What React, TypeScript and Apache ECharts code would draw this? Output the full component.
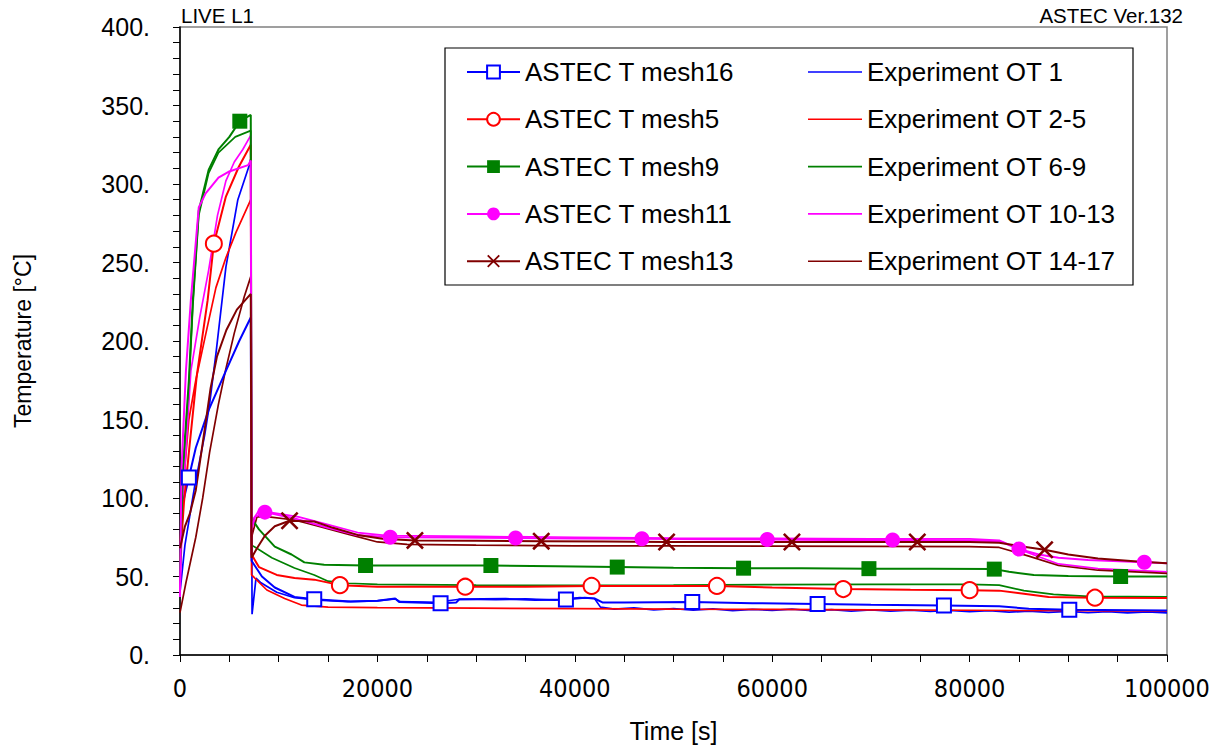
import React, { useEffect, useRef } from "react";
import * as echarts from "echarts";

// ---------- data (time [s], temperature [°C]) ----------
const astecMesh16: [number, number][] = [
  [0, 62], [300, 97], [900, 113], [1600, 132], [2900, 156], [4650, 181], [6000, 200], [7170, 215],
  [7250, 60], [8300, 50], [9600, 43], [11600, 37], [13600, 35.5], [17300, 34], [20000, 34.5],
  [21800, 36], [22200, 33.8], [26400, 33], [28000, 33.5], [28300, 35.5], [33000, 35.8], [36000, 35],
  [39100, 35.3], [41000, 36.5], [42000, 36], [42800, 33.5], [45000, 33.5], [51900, 33.8], [58000, 33],
  [64600, 32.5], [70000, 32], [77400, 31.5], [83000, 31], [86000, 29.5], [90100, 28.8], [100000, 28.3],
];
const astecMesh16Marks = [900, 13600, 26400, 39100, 51900, 64600, 77400, 90100];

const astecMesh5: [number, number][] = [
  [0, 60], [400, 97], [900, 129], [1700, 178], [2800, 226], [3430, 262], [4650, 292], [5960, 311], [7170, 325],
  [7250, 64], [8000, 56], [9800, 51], [11600, 49], [13600, 48], [16200, 44.5], [20000, 43.5], [28900, 43.5],
  [35000, 43.5], [41700, 44], [48000, 44], [54400, 44], [60000, 43], [67200, 42], [74000, 41.5], [80000, 41.3],
  [83000, 41], [85500, 39], [88000, 37], [92700, 36.5], [100000, 36.3],
];
const astecMesh5Marks = [3430, 16200, 28900, 41700, 54400, 67200, 80000, 92700];

const astecMesh9: [number, number][] = [
  [0, 55], [300, 120], [900, 175], [1300, 226], [1900, 283], [2900, 309], [3900, 322], [5000, 330], [6060, 340], [7170, 344],
  [7250, 87], [8000, 80], [9600, 69], [11300, 64], [12600, 59], [14600, 57.5], [18800, 57], [25000, 57], [31500, 57],
  [38000, 56.5], [44300, 56], [50000, 55.5], [57100, 55.3], [63000, 55.2], [69800, 55], [76000, 55], [82500, 54.7],
  [84000, 53], [86500, 51], [90000, 50.3], [95300, 50], [100000, 50],
];
const astecMesh9Marks = [6060, 18800, 31500, 44300, 57100, 69800, 82500, 95300];

const astecMesh11: [number, number][] = [
  [0, 37], [150, 118], [600, 181], [1100, 226], [1900, 285], [2600, 294], [3900, 304], [5000, 308], [6900, 312], [7170, 315],
  [7250, 80], [7600, 88], [8600, 91], [11600, 87], [15000, 81], [17800, 76.5], [21300, 75], [28000, 74.8], [34000, 74.5],
  [40000, 74.2], [46800, 74], [53000, 73.8], [59500, 73.5], [66000, 73.3], [72200, 73.2], [80000, 73], [83000, 72.5],
  [85000, 67.5], [87000, 64], [89000, 62], [92000, 60.5], [97700, 59], [100000, 58.5],
];
const astecMesh11Marks = [8600, 21300, 34000, 46800, 59500, 72200, 85000, 97700];

const astecMesh13: [number, number][] = [
  [0, 68], [500, 82], [1000, 90], [1600, 105], [2300, 135], [3100, 170], [3740, 190], [4700, 207], [5760, 220], [7170, 230],
  [7250, 62], [7800, 68], [8600, 76], [9600, 82], [11100, 85.5], [13600, 85], [15500, 81], [18000, 76.5], [20500, 74],
  [23800, 73], [30000, 72.8], [36600, 72.5], [43000, 72.3], [49300, 72], [55000, 72], [62000, 72], [68000, 72],
  [74700, 72], [80000, 72], [83000, 71.5], [85500, 69], [87600, 67], [90000, 64], [93000, 61.5], [97000, 59.5], [100000, 58.5],
];
const astecMesh13Marks = [11100, 23800, 36600, 49300, 62000, 74700, 87600];

const expOT1: [number, number][] = [
  [0, 40], [500, 70], [1500, 108], [2500, 140], [3000, 160], [3640, 192], [4650, 247], [5860, 290], [6970, 311], [7170, 316],
  [7300, 26], [7700, 49], [8200, 46], [9800, 40], [11600, 36.5], [14000, 35], [17000, 34], [20000, 34.5], [21800, 35.8],
  [22300, 34], [26000, 33.6], [28300, 35.5], [32000, 35.2], [35000, 35.8], [38000, 35], [40500, 36.5], [42000, 36],
  [42600, 30.5], [44000, 29.2], [46000, 30], [48000, 28.8], [50000, 29.6], [52000, 28.6], [54000, 29.4], [56000, 28.3],
  [58000, 29.1], [60000, 28.4], [62000, 29.2], [64000, 28.2], [66000, 28.9], [68000, 28], [70000, 28.8], [72000, 27.9],
  [74000, 28.6], [76000, 27.7], [78000, 28.4], [80000, 27.6], [82000, 28.2], [84000, 27.3], [86000, 27.9], [88000, 27.1],
  [90000, 27.8], [92000, 26.9], [94000, 27.6], [96000, 26.8], [98000, 27.4], [100000, 26.8],
];

const expOT2to5: [number, number][] = [
  [0, 68], [300, 105], [900, 150], [1600, 175], [2630, 205], [3640, 234], [4650, 253], [5660, 269], [7170, 290],
  [7250, 51], [8800, 41.4], [10600, 36], [12300, 31.8], [15000, 30.5], [20000, 30.2], [30000, 29.8], [40000, 29.5],
  [50000, 29.2], [60000, 29], [70000, 28.8], [80000, 28.5], [90000, 28.2], [100000, 28],
];

const expOT6to9: [number, number][] = [
  [0, 50], [300, 115], [900, 170], [1300, 222], [1900, 280], [2900, 307], [3900, 320], [5600, 330], [7170, 334],
  [7250, 70], [9300, 62], [11600, 55.4], [13600, 51], [15000, 47], [17000, 45.7], [20000, 45], [30000, 44.5],
  [40000, 44.3], [50000, 44.5], [60000, 44.8], [70000, 45], [80000, 45], [83000, 44.5], [85500, 41], [88500, 38.6],
  [92000, 37.3], [100000, 37],
];

const expOT10to13: [number, number][] = [
  [0, 40], [300, 100], [1100, 181], [2000, 215], [2900, 245], [3800, 280], [4650, 302], [5500, 314], [6360, 322], [7170, 331],
  [7250, 85], [8000, 92], [9000, 91], [12000, 88], [15000, 83], [18000, 78], [21000, 76], [30000, 75.5], [40000, 75],
  [50000, 74.5], [60000, 74.3], [70000, 74], [80000, 74], [83000, 73], [86000, 65], [89000, 58], [93000, 55], [100000, 53],
];

const expOT14to17: [number, number][] = [
  [0, 27], [600, 46], [1600, 75], [2300, 100], [3000, 129], [3900, 160], [4600, 181], [5500, 205], [6500, 228], [7170, 241],
  [7250, 75], [7800, 88], [9000, 88], [11600, 86], [14000, 82], [17000, 77], [20000, 72], [23000, 70.5], [30000, 70],
  [40000, 69.5], [50000, 69.5], [60000, 69.3], [70000, 69.2], [80000, 69], [83000, 68.5], [86000, 63], [89000, 57],
  [93000, 54], [100000, 52],
];

const astecNames = ["ASTEC T mesh16", "ASTEC T mesh5", "ASTEC T mesh9", "ASTEC T mesh11", "ASTEC T mesh13"];
const expNames = ["Experiment OT 1", "Experiment OT 2-5", "Experiment OT 6-9", "Experiment OT 10-13", "Experiment OT 14-17"];

// ---------- styling ----------
const BLUE = "#0000ff";
const RED = "#ff0000";
const GREEN = "#008000";
const MAGENTA = "#ff00ff";
const BROWN = "#800000";
const FONT = "Liberation Sans, Arial, sans-serif";
const NARROW = "Liberation Sans Narrow, Arial Narrow, DejaVu Sans Condensed, sans-serif";
const X_SYMBOL = "path://M0,1 L1,0 L10,9 L9,10 Z M9,0 L10,1 L1,10 L0,9 Z";
const LINE_ICON = "path://M0,0 L54,0 L54,1.6 L0,1.6 Z";

function astecSeries(name: string, pts: [number, number][], marks: number[], color: string, symbol: string, size: number) {
  return {
    name,
    type: "line",
    symbol,
    symbolSize: size,
    showSymbol: true,
    showAllSymbol: true,
    lineStyle: { width: 2, color },
    itemStyle: { color, borderColor: color, borderWidth: symbol.startsWith("empty") ? 1.3 : 0 },
    emphasis: { disabled: true },
    z: 3,
    data: pts.map(([t, v]) => (marks.includes(t) ? { value: [t, v] } : { value: [t, v], symbol: "none" })),
  };
}

function expSeries(name: string, pts: [number, number][], color: string) {
  return {
    name,
    type: "line",
    symbol: "none",
    lineStyle: { width: 1.7, color },
    itemStyle: { color },
    emphasis: { disabled: true },
    z: 2,
    data: pts,
  };
}

export default function App() {
  const ref = useRef<HTMLDivElement>(null);
  useEffect(() => {
    if (!ref.current) return;
    const chart = echarts.init(ref.current, undefined, { renderer: "svg" });
    const legendText = { fontSize: 26, lineHeight: 26, color: "#000", fontFamily: FONT };
    chart.setOption({
      animation: false,
      backgroundColor: "#fff",
      textStyle: { fontFamily: FONT },
      grid: {
        left: 180, right: 50, top: 27, bottom: 96,
        show: true, borderColor: "#808080", borderWidth: 1.5, backgroundColor: "transparent",
      },
      xAxis: {
        type: "value", min: 0, max: 100000, interval: 20000,
        name: "Time [s]", nameLocation: "middle", nameGap: 63,
        nameTextStyle: { fontSize: 25, color: "#000", fontFamily: FONT },
        axisLine: { lineStyle: { color: "#000", width: 1.5 } },
        axisTick: { show: true, length: 7, lineStyle: { color: "#000" } },
        minorTick: { show: true, splitNumber: 4, length: 7, lineStyle: { color: "#000" } },
        splitLine: { show: false },
        axisLabel: { fontSize: 25, color: "#000", margin: 21, fontFamily: NARROW, formatter: (v: number) => String(v) },
      },
      yAxis: {
        type: "value", min: 0, max: 400, interval: 50,
        name: "Temperature [°C]", nameLocation: "middle", nameGap: 146, nameRotate: 90,
        nameTextStyle: { fontSize: 23, color: "#000", fontFamily: FONT },
        axisLine: { lineStyle: { color: "#000", width: 1.5 } },
        axisTick: { show: true, length: 7, lineStyle: { color: "#000" } },
        minorTick: { show: true, splitNumber: 5, length: 7, lineStyle: { color: "#000" } },
        splitLine: { show: false },
        axisLabel: { fontSize: 25, color: "#000", margin: 30, fontFamily: FONT, formatter: (v: number) => `${v}.` },
      },
      legend: [
        {
          data: astecNames, orient: "vertical", left: 466, top: 59, padding: 0,
          itemWidth: 53, itemHeight: 16, itemGap: 21.3, selectedMode: false, z: 6,
          textStyle: legendText,
        },
        {
          data: expNames.map((n) => ({ name: n, icon: LINE_ICON })), orient: "vertical", left: 808, top: 59, padding: 0,
          itemWidth: 54, itemHeight: 16, itemGap: 21.3, selectedMode: false, z: 6,
          textStyle: legendText,
        },
      ],
      graphic: [
        { type: "rect", z: 5, shape: { x: 445, y: 48, width: 688, height: 237 }, style: { fill: "#fff", stroke: "#000", lineWidth: 1.2 } },
        { type: "text", left: 181, top: 5, style: { text: "LIVE L1", fontSize: 20.5, fill: "#000", fontFamily: FONT } },
        { type: "text", right: 34, top: 5, style: { text: "ASTEC Ver.132", fontSize: 20.5, fill: "#000", fontFamily: FONT } },
      ],
      series: [
        expSeries(expNames[0], expOT1, BLUE),
        expSeries(expNames[1], expOT2to5, RED),
        expSeries(expNames[2], expOT6to9, GREEN),
        expSeries(expNames[3], expOT10to13, MAGENTA),
        expSeries(expNames[4], expOT14to17, BROWN),
        astecSeries(astecNames[0], astecMesh16, astecMesh16Marks, BLUE, "emptyRect", 14),
        astecSeries(astecNames[1], astecMesh5, astecMesh5Marks, RED, "emptyCircle", 16),
        astecSeries(astecNames[2], astecMesh9, astecMesh9Marks, GREEN, "rect", 15),
        astecSeries(astecNames[3], astecMesh11, astecMesh11Marks, MAGENTA, "circle", 15),
        astecSeries(astecNames[4], astecMesh13, astecMesh13Marks, BROWN, X_SYMBOL, 18),
      ],
    });
    return () => chart.dispose();
  }, []);
  return <div ref={ref} style={{ position: "fixed", left: 0, top: 0, width: 1217, height: 751, background: "#fff" }} />;
}
